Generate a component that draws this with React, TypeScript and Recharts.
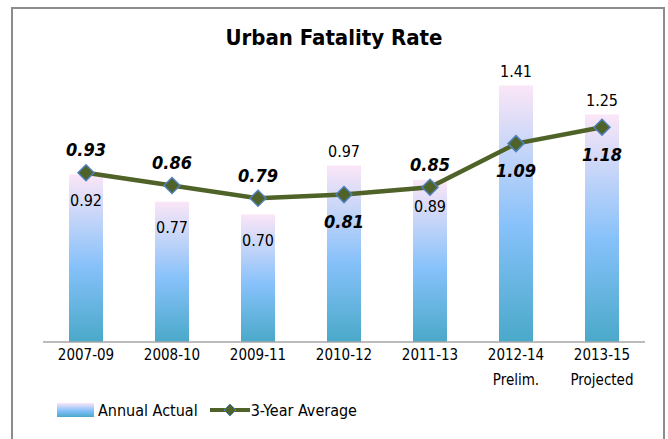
import { Bar, Line, XAxis, YAxis, LabelList, ComposedChart } from "recharts";

const PERIODS = ["2007-09", "2008-10", "2009-11", "2010-12", "2011-13", "2012-14", "2013-15"];
const PERIOD_NOTES = ["", "", "", "", "", "Prelim.", "Projected"];
const ANNUAL_ACTUAL = [0.92, 0.77, 0.7, 0.97, 0.89, 1.41, 1.25];
const THREE_YEAR_AVG = [0.93, 0.86, 0.79, 0.81, 0.85, 1.09, 1.18];
// where each label sits relative to its mark
const ACTUAL_LABEL_ABOVE = [false, false, false, true, false, true, true];
const AVG_LABEL_ABOVE = [true, true, true, false, true, false, false];

const FONT = "'Liberation Sans Narrow', 'DejaVu Sans Condensed', 'Arial Narrow', sans-serif";
const LINE_COLOR = "#4f6228";

const data = PERIODS.map((p, i) => ({
  period: p,
  note: PERIOD_NOTES[i],
  actual: ANNUAL_ACTUAL[i],
  avg: THREE_YEAR_AVG[i],
}));

function PeriodTick(props: any) {
  const { x, y, payload, index } = props;
  return (
    <text x={x} y={y} textAnchor="middle" fontFamily={FONT} fontSize={15} fill="#000">
      <tspan x={x} dy={10}>{payload.value}</tspan>
      {PERIOD_NOTES[index] ? <tspan x={x} dy={25}>{PERIOD_NOTES[index]}</tspan> : null}
    </text>
  );
}

function ActualLabel(props: any) {
  const { x, y, width, value, index } = props;
  const above = ACTUAL_LABEL_ABOVE[index];
  return (
    <text
      x={x + width / 2}
      y={above ? y - 14 : y + 26}
      textAnchor="middle"
      dominantBaseline="central"
      fontFamily={FONT}
      fontSize={16}
      fill="#000"
    >
      {value.toFixed(2)}
    </text>
  );
}

function AvgLabel(props: any) {
  const { x, y, value, index } = props;
  const above = AVG_LABEL_ABOVE[index];
  return (
    <text
      x={x}
      y={above ? y - 23 : y + 27}
      textAnchor="middle"
      dominantBaseline="central"
      fontFamily={FONT}
      fontSize={18}
      fontWeight="bold"
      fontStyle="italic"
      fill="#000"
    >
      {value.toFixed(2)}
    </text>
  );
}

function Diamond(props: any) {
  const { cx, cy } = props;
  if (cx == null || cy == null) return null;
  const r = 8;
  return (
    <path
      d={`M${cx},${cy - r} L${cx + r},${cy} L${cx},${cy + r} L${cx - r},${cy} Z`}
      fill={LINE_COLOR}
      stroke="#4f81bd"
      strokeWidth={1.5}
    />
  );
}

export default function App() {
  return (
    <div style={{ position: "absolute", left: 0, top: 0, width: 668, height: 439, background: "#fff", overflow: "hidden" }}>
      <div
        style={{
          position: "absolute",
          left: 11,
          top: 7,
          width: 650,
          height: 460,
          border: "2px solid #8c8c8c",
        }}
      />
      <div
        style={{
          position: "absolute",
          left: 0,
          width: 668,
          top: 25,
          textAlign: "center",
          fontFamily: FONT,
          fontWeight: "bold",
          fontSize: 22,
          color: "#000",
        }}
      >
        Urban Fatality Rate
      </div>
      <div style={{ position: "absolute", left: 0, top: 0 }}>
        <ComposedChart
          width={668}
          height={439}
          data={data}
          margin={{ top: 69, right: 23, left: 43, bottom: 37 }}
          barCategoryGap={0}
        >
          <defs>
            <linearGradient id="barGrad" x1="0" y1="0" x2="0" y2="1">
              <stop offset="0%" stopColor="#fbe6f7" />
              <stop offset="55%" stopColor="#86c1fa" />
              <stop offset="100%" stopColor="#4aa9c9" />
            </linearGradient>
          </defs>
          <XAxis
            dataKey="period"
            height={60}
            tickLine={false}
            axisLine={{ stroke: "#a6a6a6", strokeWidth: 1.5 }}
            tick={<PeriodTick />}
            interval={0}
          />
          <YAxis hide domain={[0, 1.5]} />
          <Bar dataKey="actual" name="Annual Actual" fill="url(#barGrad)" barSize={34} isAnimationActive={false}>
            <LabelList dataKey="actual" content={<ActualLabel />} />
          </Bar>
          <Line
            type="linear"
            dataKey="avg"
            name="3-Year Average"
            stroke={LINE_COLOR}
            strokeWidth={4.5}
            dot={<Diamond />}
            activeDot={false}
            isAnimationActive={false}
          >
            <LabelList dataKey="avg" content={<AvgLabel />} />
          </Line>
        </ComposedChart>
      </div>
      <div
        style={{
          position: "absolute",
          left: 57,
          top: 400,
          display: "flex",
          alignItems: "center",
          fontFamily: FONT,
          fontSize: 16,
          color: "#000",
        }}
      >
        <span
          style={{
            display: "inline-block",
            width: 37,
            height: 14,
            background: "linear-gradient(#fbe6f7, #86c1fa 55%, #4aa9c9)",
            marginRight: 4,
          }}
        />
        <span>Annual Actual</span>
        <svg width={40} height={20} style={{ marginLeft: 12, marginRight: 1 }}>
          <line x1={0} y1={10} x2={40} y2={10} stroke={LINE_COLOR} strokeWidth={4} />
          <path d="M20,4 L26,10 L20,16 L14,10 Z" fill={LINE_COLOR} stroke="#4f81bd" strokeWidth={1} />
        </svg>
        <span>3-Year Average</span>
      </div>
    </div>
  );
}
